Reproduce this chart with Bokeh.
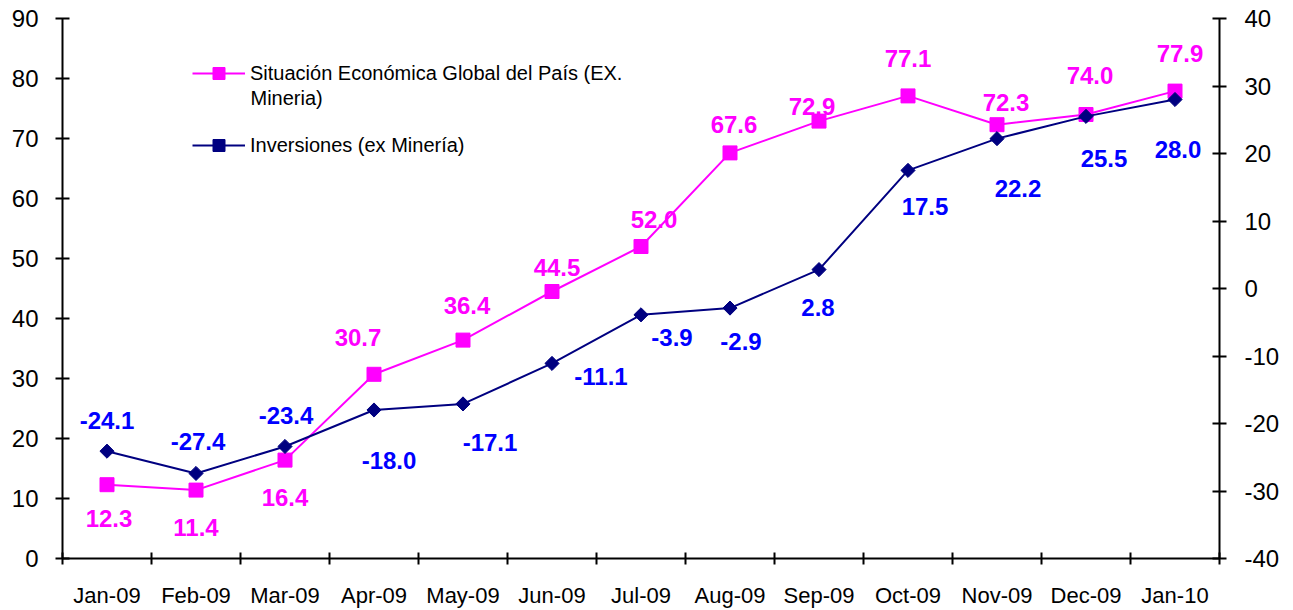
import numpy as np
from bokeh.plotting import figure
from bokeh.models import (ColumnDataSource, Range1d, LinearAxis, FixedTicker,
                          Legend, LegendItem, Label)
from bokeh.core.properties import value
from bokeh.embed import file_html
from bokeh.resources import INLINE

# ---- data ----
months = ["Jan-09", "Feb-09", "Mar-09", "Apr-09", "May-09", "Jun-09", "Jul-09",
          "Aug-09", "Sep-09", "Oct-09", "Nov-09", "Dec-09", "Jan-10"]
situacion = [12.3, 11.4, 16.4, 30.7, 36.4, 44.5, 52.0, 67.6, 72.9, 77.1, 72.3, 74.0, 77.9]
inversiones = [-24.1, -27.4, -23.4, -18.0, -17.1, -11.1, -3.9, -2.9, 2.8, 17.5, 22.2, 25.5, 28.0]
left_ticks = [0, 10, 20, 30, 40, 50, 60, 70, 80, 90]
right_ticks = [-40, -30, -20, -10, 0, 10, 20, 30, 40]
name_sit = "Situación Económica Global del País (EX."
name_sit2 = "Mineria)"
name_inv = "Inversiones (ex Minería)"

# label placement (screen px offsets from the point)
sit_dx = [2, 0, 0, -16, 4, 5, 13, 4, -7, 0, 9, 4, 5]
sit_dy = [34, 37, 37, -37, -35, -24, -27, -28, -15, -37, -22, -39, -38]
inv_dx = [0, 2, 1, 15, 27, 49, 31, 11, -1, 17, 21, 18, 3]
inv_dy = [-31, -32, -31, 50, 39, 13, 23, 33, 38, 36, 50, 42, 50]

PINK = "#FF00FF"
NAVY = "#000080"
BLUE = "#0000FF"
FONT = "Liberation Sans"

xs = list(range(len(months)))
src_s = ColumnDataSource(dict(x=xs, y=situacion, lab=[f"{v:.1f}" for v in situacion],
                              dx=sit_dx, dy=sit_dy))
src_i = ColumnDataSource(dict(x=xs, y=inversiones, lab=[f"{v:.1f}" for v in inversiones],
                              dx=inv_dx, dy=inv_dy))

p = figure(width=1293, height=610, output_backend="svg", toolbar_location=None,
           x_range=Range1d(-0.5, len(months) - 0.5), y_range=Range1d(0, 90),
           min_border_left=62, min_border_right=74, min_border_top=18, min_border_bottom=52)
p.extra_y_ranges = {"right": Range1d(-40, 40)}
p.outline_line_color = None
p.xgrid.visible = False
p.ygrid.visible = False
p.background_fill_color = "white"
p.border_fill_color = "white"

# x axis
xa = p.xaxis[0]
xa.ticker = FixedTicker(ticks=xs, minor_ticks=[i - 0.5 for i in range(len(months) + 1)])
xa.major_label_overrides = {i: m for i, m in enumerate(months)}
xa.major_tick_line_color = None
xa.major_tick_in = 0
xa.major_tick_out = 0
xa.minor_tick_in = 6
xa.minor_tick_out = 6
xa.minor_tick_line_color = "black"
xa.minor_tick_line_width = 2
xa.axis_line_width = 2
xa.axis_line_color = "black"
xa.major_label_standoff = 18
xa.major_label_text_font = FONT
xa.major_label_text_font_size = "22px"
xa.major_label_text_color = "black"

# left axis
ya = p.yaxis[0]
ya.ticker = FixedTicker(ticks=left_ticks)
ya.minor_tick_line_color = None
ya.major_tick_in = 7
ya.major_tick_out = 7
ya.major_tick_line_width = 2
ya.axis_line_width = 2
ya.major_label_standoff = 17
ya.major_label_text_font = FONT
ya.major_label_text_font_size = "24px"
ya.major_label_text_color = "black"

# right axis
ra = LinearAxis(y_range_name="right", ticker=FixedTicker(ticks=right_ticks))
ra.major_label_overrides = {t: str(t) for t in right_ticks}
ra.minor_tick_line_color = None
ra.major_tick_in = 7
ra.major_tick_out = 7
ra.major_tick_line_width = 2
ra.axis_line_width = 2
ra.major_label_standoff = 18
ra.major_label_text_font = FONT
ra.major_label_text_font_size = "24px"
ra.major_label_text_color = "black"
p.add_layout(ra, "right")

# series
l1 = p.line("x", "y", source=src_s, line_color=PINK, line_width=2)
m1 = p.scatter("x", "y", source=src_s, marker="square", size=14,
               fill_color=PINK, line_color=PINK)
l2 = p.line("x", "y", source=src_i, line_color=NAVY, line_width=2, y_range_name="right")
m2 = p.scatter("x", "y", source=src_i, marker="square", angle=np.pi / 4, size=10,
               fill_color=NAVY, line_color=NAVY, y_range_name="right")

p.text("x", "y", text="lab", source=src_s, x_offset="dx", y_offset="dy",
       text_align="center", text_baseline="middle", text_color=PINK,
       text_font=value(FONT), text_font_size="24px", text_font_style="bold")
p.text("x", "y", text="lab", source=src_i, x_offset="dx", y_offset="dy",
       text_align="center", text_baseline="middle", text_color=BLUE,
       text_font=value(FONT), text_font_size="24px", text_font_style="bold",
       y_range_name="right")

legend = Legend(items=[LegendItem(label=name_sit, renderers=[l1, m1]),
                       LegendItem(label=name_inv, renderers=[l2, m2])],
                location=(130, 398), orientation="vertical",
                glyph_width=53, glyph_height=30, label_height=30,
                label_standoff=5, spacing=42, padding=0, margin=0,
                border_line_color=None, background_fill_alpha=0,
                label_text_font=FONT, label_text_font_size="20px",
                label_text_color="black")
p.add_layout(legend)
p.add_layout(Label(x=188, y=461, x_units="screen", y_units="screen", text=name_sit2,
                   text_font=FONT, text_font_size="20px", text_color="black",
                   text_align="left", text_baseline="middle"))

open("out.html", "w").write(file_html(p, INLINE))
